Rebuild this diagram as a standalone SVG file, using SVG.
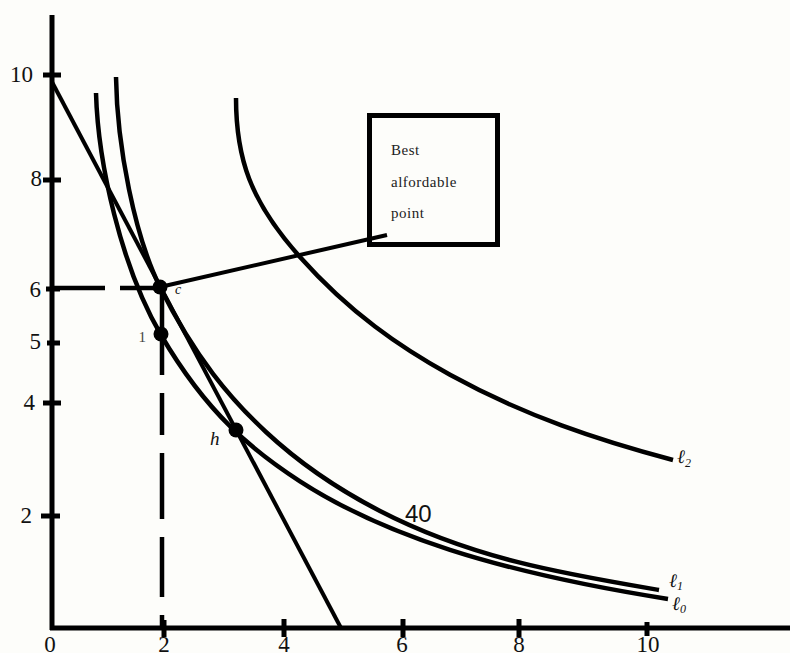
<svg xmlns="http://www.w3.org/2000/svg" width="790" height="653" viewBox="0 0 790 653">
<style>
.ax{stroke:#000;stroke-width:5;fill:none}
.tk{stroke:#000;stroke-width:5}
.cv{stroke:#000;stroke-width:4.5;fill:none;stroke-linejoin:round;stroke-linecap:butt}
.ln{stroke:#000;stroke-width:4;fill:none}
.dash{stroke:#000;stroke-width:4.5;fill:none}
.num{font-family:"Liberation Serif","Times New Roman",serif;font-size:23px;fill:#111}
.box{font-family:"Liberation Serif","Times New Roman",serif;font-size:15px;fill:#222;letter-spacing:0.5px}
.it{font-family:"Liberation Serif","DejaVu Serif",serif;font-style:italic;fill:#111}
.dot{fill:#000}
</style>
<rect x="0" y="0" width="790" height="653" fill="#fdfdfa"/>
<g id="axes">
<line class="ax" x1="52" y1="15" x2="52" y2="630"/>
<line class="ax" x1="50" y1="628" x2="790" y2="628"/>
<line class="tk" x1="43" y1="75" x2="61" y2="75"/>
<line class="tk" x1="43" y1="180" x2="61" y2="180"/>
<line class="tk" x1="46" y1="289" x2="60" y2="289"/>
<line class="tk" x1="47" y1="343" x2="60" y2="343"/>
<line class="tk" x1="43" y1="403" x2="61" y2="403"/>
<line class="tk" x1="41" y1="516" x2="60" y2="516"/>
<line class="tk" x1="164" y1="620" x2="164" y2="637"/>
<line class="tk" x1="284" y1="619" x2="284" y2="637"/>
<line class="tk" x1="403" y1="619" x2="403" y2="637"/>
<line class="tk" x1="519" y1="619" x2="519" y2="637"/>
<line class="tk" x1="647" y1="622" x2="647" y2="636"/>
<text class="num" x="33" y="82" text-anchor="end">10</text>
<text class="num" x="42" y="186" text-anchor="end">8</text>
<text class="num" x="41" y="297" text-anchor="end">6</text>
<text class="num" x="41" y="349" text-anchor="end">5</text>
<text class="num" x="35" y="410" text-anchor="end">4</text>
<text class="num" x="32" y="523" text-anchor="end">2</text>
<text class="num" x="50" y="652" text-anchor="middle">0</text>
<text class="num" x="164" y="652" text-anchor="middle">2</text>
<text class="num" x="284" y="652" text-anchor="middle">4</text>
<text class="num" x="402" y="652" text-anchor="middle">6</text>
<text class="num" x="519" y="652" text-anchor="middle">8</text>
<text class="num" x="648" y="652" text-anchor="middle">10</text>
</g>
<g id="connectors">
<line class="dash" x1="52" y1="288" x2="160" y2="288" stroke-dasharray="53 15"/>
<line class="dash" x1="162" y1="288" x2="162" y2="628" stroke-dasharray="87 18 42 18 66 18 60 18 40"/>
<line id="budget" class="ln" x1="52" y1="82" x2="341" y2="628"/>
<line class="ln" x1="160" y1="287" x2="387" y2="235"/>
</g>
<g id="I0">
<path class="cv" d="M96,93 C98,163 121,266.5 161,335 C207.33,414.4 253.67,451.3 300,481.3 C350,513.6 400,533.7 450,549.8 C522.67,573.2 595.33,587.5 668,599"/>
<text class="it" x="672" y="610" font-size="19">ℓ<tspan font-size="12" dy="3">0</tspan></text>
</g>
<g id="I1">
<path class="cv" d="M116,77 C117,147 135,236.7 160,287 C195.33,358 230.67,399.1 266,432 C304,467.4 342,491.4 380,511 C473,559 566,574.2 659,590"/>
<text class="it" x="669" y="587" font-size="19">ℓ<tspan font-size="12" dy="3">1</tspan></text>
</g>
<g id="I2">
<path class="cv" d="M236,98 C236,158 250,201 300,257 C350,313 400,347.25 450,374.8 C524.33,415.8 598.67,440.3 673,460"/>
<text class="it" x="677" y="463" font-size="19">ℓ<tspan font-size="12" dy="4">2</tspan></text>
</g>
<g id="point-c">
<circle class="dot" cx="160" cy="287" r="7.5"/>
<text class="it" x="175" y="294" font-size="14">c</text>
</g>
<g id="point-1">
<circle class="dot" cx="161" cy="334" r="7.5"/>
<text x="146" y="342" text-anchor="end" font-family="Liberation Serif, Times New Roman, serif" font-size="15" fill="#444">1</text>
</g>
<g id="point-h">
<circle class="dot" cx="236" cy="430" r="7.5"/>
<text class="it" x="210" y="445" font-size="19">h</text>
</g>
<g id="label-40">
<text x="405" y="522" font-family="Liberation Sans, Arial, sans-serif" font-size="24" fill="#111">40</text>
</g>
<g id="box">
<rect x="369.5" y="115.5" width="128" height="129" fill="none" stroke="#000" stroke-width="5"/>
<text class="box" x="391" y="155">Best</text>
<text class="box" x="391" y="187">alfordable</text>
<text class="box" x="391" y="218">point</text>
</g>
</svg>
